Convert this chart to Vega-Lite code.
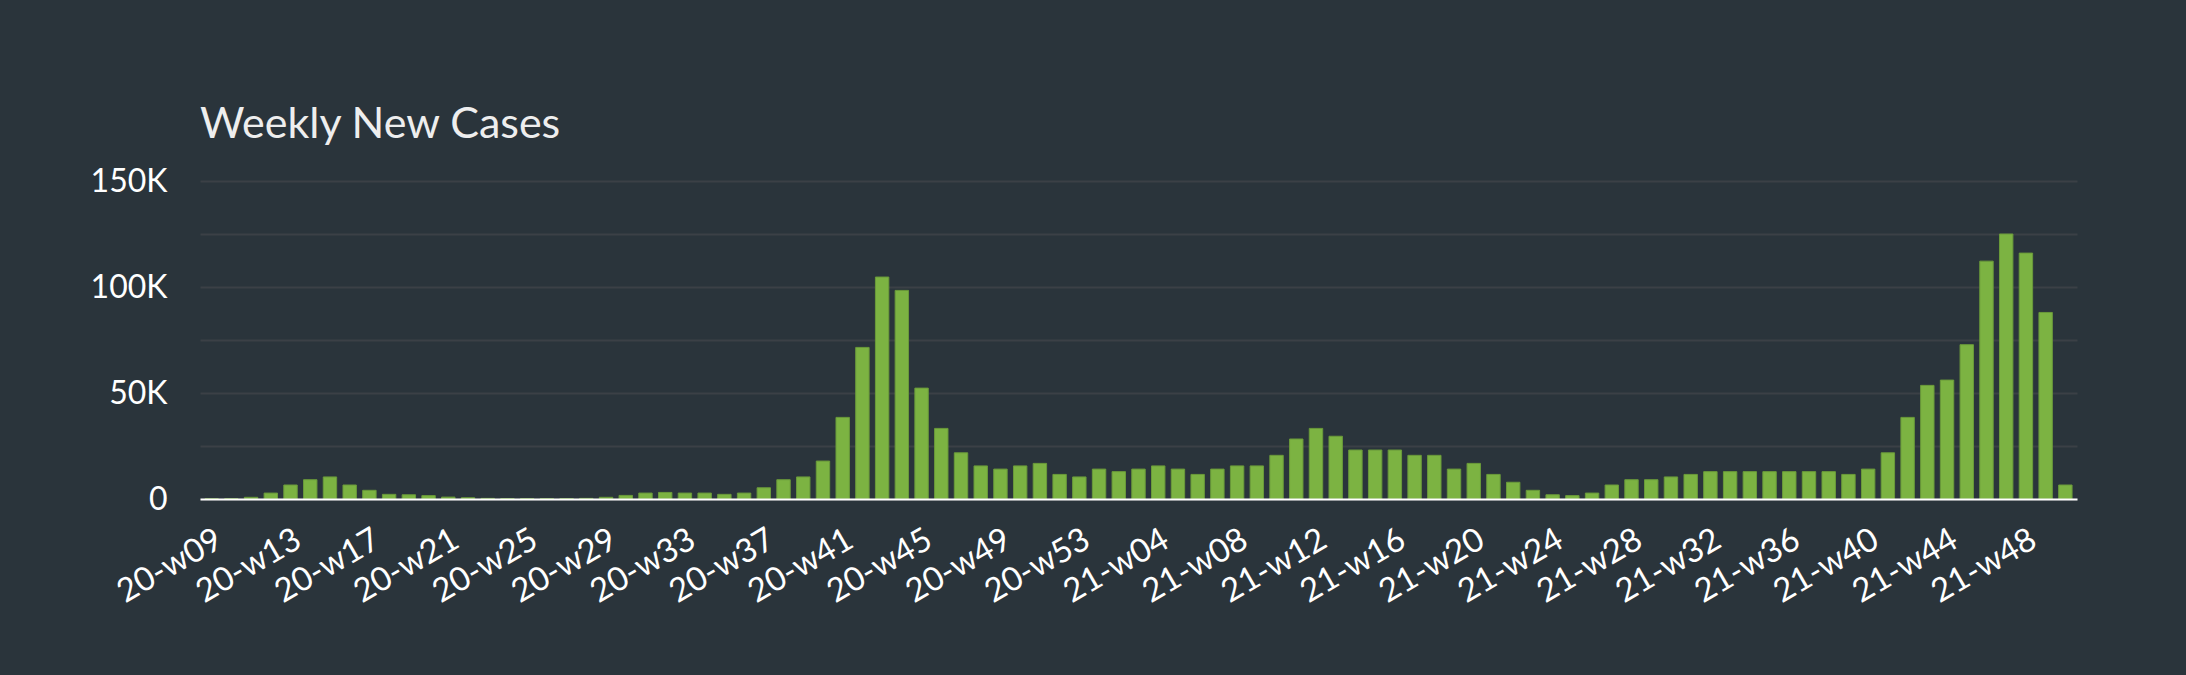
{
  "$schema": "https://vega.github.io/schema/vega-lite/v6.json",
  "autosize": "none",
  "width": 1877,
  "height": 318,
  "padding": {"left": 200, "top": 181, "right": 109, "bottom": 176},
  "background": "#2a343b",
  "title": {
    "text": "Weekly New Cases",
    "anchor": "start",
    "frame": "group",
    "font": "Lato",
    "fontSize": 43,
    "fontWeight": "normal",
    "color": "#eeeeee",
    "offset": 18
  },
  "config": {
    "view": {"stroke": null},
    "axis": {"labelFont": "Lato", "labelColor": "#ffffff", "labelFontSize": 31}
  },
  "data": {
    "values": [
      {"week": "20-w09", "cases": 100},
      {"week": "20-w10", "cases": 150},
      {"week": "20-w11", "cases": 800},
      {"week": "20-w12", "cases": 2800},
      {"week": "20-w13", "cases": 6600},
      {"week": "20-w14", "cases": 9100},
      {"week": "20-w15", "cases": 10400},
      {"week": "20-w16", "cases": 6600},
      {"week": "20-w17", "cases": 4100},
      {"week": "20-w18", "cases": 2200},
      {"week": "20-w19", "cases": 2000},
      {"week": "20-w20", "cases": 1600},
      {"week": "20-w21", "cases": 900},
      {"week": "20-w22", "cases": 600},
      {"week": "20-w23", "cases": 300},
      {"week": "20-w24", "cases": 200},
      {"week": "20-w25", "cases": 150},
      {"week": "20-w26", "cases": 150},
      {"week": "20-w27", "cases": 200},
      {"week": "20-w28", "cases": 300},
      {"week": "20-w29", "cases": 800},
      {"week": "20-w30", "cases": 1700},
      {"week": "20-w31", "cases": 2800},
      {"week": "20-w32", "cases": 3100},
      {"week": "20-w33", "cases": 2800},
      {"week": "20-w34", "cases": 2800},
      {"week": "20-w35", "cases": 2200},
      {"week": "20-w36", "cases": 2800},
      {"week": "20-w37", "cases": 5300},
      {"week": "20-w38", "cases": 9100},
      {"week": "20-w39", "cases": 10400},
      {"week": "20-w40", "cases": 17900},
      {"week": "20-w41", "cases": 38500},
      {"week": "20-w42", "cases": 71500},
      {"week": "20-w43", "cases": 104700},
      {"week": "20-w44", "cases": 98400},
      {"week": "20-w45", "cases": 52300},
      {"week": "20-w46", "cases": 33300},
      {"week": "20-w47", "cases": 21800},
      {"week": "20-w48", "cases": 15600},
      {"week": "20-w49", "cases": 14100},
      {"week": "20-w50", "cases": 15600},
      {"week": "20-w51", "cases": 16800},
      {"week": "20-w52", "cases": 11600},
      {"week": "20-w53", "cases": 10400},
      {"week": "21-w01", "cases": 14100},
      {"week": "21-w02", "cases": 12900},
      {"week": "21-w03", "cases": 14100},
      {"week": "21-w04", "cases": 15600},
      {"week": "21-w05", "cases": 14100},
      {"week": "21-w06", "cases": 11600},
      {"week": "21-w07", "cases": 14100},
      {"week": "21-w08", "cases": 15600},
      {"week": "21-w09", "cases": 15600},
      {"week": "21-w10", "cases": 20600},
      {"week": "21-w11", "cases": 28300},
      {"week": "21-w12", "cases": 33300},
      {"week": "21-w13", "cases": 29600},
      {"week": "21-w14", "cases": 23100},
      {"week": "21-w15", "cases": 23100},
      {"week": "21-w16", "cases": 23100},
      {"week": "21-w17", "cases": 20600},
      {"week": "21-w18", "cases": 20600},
      {"week": "21-w19", "cases": 14100},
      {"week": "21-w20", "cases": 16800},
      {"week": "21-w21", "cases": 11600},
      {"week": "21-w22", "cases": 7900},
      {"week": "21-w23", "cases": 4100},
      {"week": "21-w24", "cases": 2000},
      {"week": "21-w25", "cases": 1600},
      {"week": "21-w26", "cases": 2800},
      {"week": "21-w27", "cases": 6600},
      {"week": "21-w28", "cases": 9100},
      {"week": "21-w29", "cases": 9100},
      {"week": "21-w30", "cases": 10400},
      {"week": "21-w31", "cases": 11600},
      {"week": "21-w32", "cases": 12900},
      {"week": "21-w33", "cases": 12900},
      {"week": "21-w34", "cases": 12900},
      {"week": "21-w35", "cases": 12900},
      {"week": "21-w36", "cases": 12900},
      {"week": "21-w37", "cases": 12900},
      {"week": "21-w38", "cases": 12900},
      {"week": "21-w39", "cases": 11600},
      {"week": "21-w40", "cases": 14100},
      {"week": "21-w41", "cases": 21800},
      {"week": "21-w42", "cases": 38500},
      {"week": "21-w43", "cases": 53600},
      {"week": "21-w44", "cases": 56100},
      {"week": "21-w45", "cases": 72800},
      {"week": "21-w46", "cases": 112200},
      {"week": "21-w47", "cases": 125000},
      {"week": "21-w48", "cases": 116000},
      {"week": "21-w49", "cases": 88000},
      {"week": "21-w50", "cases": 6600}
    ]
  },
  "mark": {"type": "bar", "color": "#7cb342", "stroke": "#6a9a3a", "strokeWidth": 1},
  "encoding": {
    "x": {
      "field": "week",
      "type": "ordinal",
      "sort": null,
      "scale": {"paddingInner": 0.32, "paddingOuter": 0.25},
      "axis": {
        "title": null,
        "values": ["20-w09", "20-w13", "20-w17", "20-w21", "20-w25", "20-w29", "20-w33", "20-w37", "20-w41", "20-w45", "20-w49", "20-w53", "21-w04", "21-w08", "21-w12", "21-w16", "21-w20", "21-w24", "21-w28", "21-w32", "21-w36", "21-w40", "21-w44", "21-w48"],
        "labelAngle": -30,
        "labelFontSize": 33,
        "labelPadding": 24,
        "ticks": false,
        "domainColor": "#ffffff",
        "domainWidth": 2,
        "grid": false,
        "zindex": 1
      }
    },
    "y": {
      "field": "cases",
      "type": "quantitative",
      "scale": {"domain": [0, 150000], "nice": false},
      "axis": {
        "title": null,
        "values": [0, 25000, 50000, 75000, 100000, 125000, 150000],
        "labelExpr": "datum.value % 50000 == 0 ? (datum.value == 0 ? '0' : (datum.value / 1000) + 'K') : ''",
        "labelFontSize": 32,
        "labelPadding": 33,
        "ticks": false,
        "domain": false,
        "gridColor": "#3b4046",
        "gridWidth": 2
      }
    }
  }
}
